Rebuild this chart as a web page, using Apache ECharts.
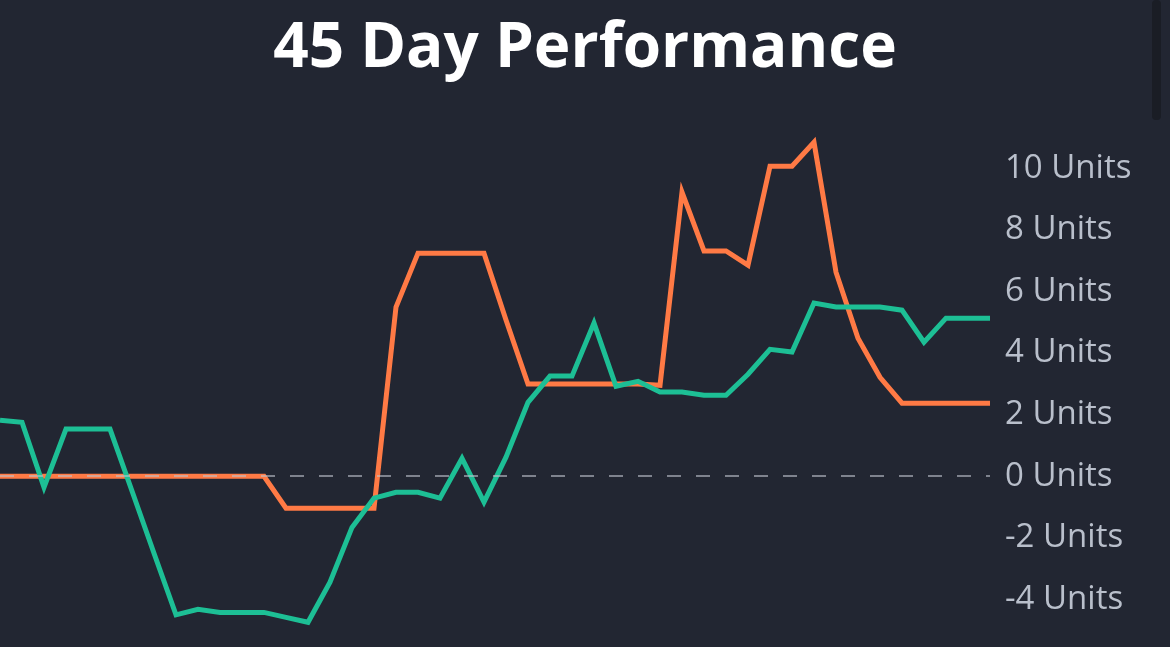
<!DOCTYPE html>
<html>
<head>
<meta charset="utf-8">
<script src="https://cdn.jsdelivr.net/npm/echarts@6/dist/echarts.min.js"></script>
<style>
  html, body { margin: 0; padding: 0; background: #222632; }
  #chart { width: 1170px; height: 647px; }
</style>
</head>
<body>
<div id="chart"></div>
<script>
// 46 daily points (day 0 .. day 45)
const days = Array.from({ length: 46 }, (_, i) => 'D' + i);

const greenValues = [
  1.82, 1.75, -0.36, 1.53, 1.53, 1.53, -0.48, -2.5, -4.5, -4.32,
  -4.42, -4.42, -4.42, -4.58, -4.74, -3.44, -1.66, -0.71, -0.52, -0.52,
  -0.71, 0.58, -0.84, 0.62, 2.4, 3.25, 3.25, 4.97, 2.92, 3.08,
  2.73, 2.73, 2.63, 2.63, 3.31, 4.12, 4.03, 5.62, 5.49, 5.49,
  5.49, 5.39, 4.35, 5.13, 5.13, 5.13
];

const orangeValues = [
  0, 0, 0, 0, 0, 0, 0, 0, 0, 0,
  0, 0, 0, -1.04, -1.04, -1.04, -1.04, -1.04, 5.49, 7.24,
  7.24, 7.24, 7.24, 5.07, 2.99, 2.99, 2.99, 2.99, 2.99, 2.99,
  2.95, 9.22, 7.31, 7.31, 6.85, 10.06, 10.06, 10.84, 6.62, 4.48,
  3.21, 2.37, 2.37, 2.37, 2.37, 2.37
];

const shownTicks = [-4, -2, 0, 2, 4, 6, 8, 10];

const myChart = echarts.init(document.getElementById('chart'));

let option = {
  backgroundColor: '#222632',
  animation: false,
  title: {
    text: '45 Day Performance',
    left: 'center',
    top: 13,
    textStyle: {
      color: '#ffffff',
      fontFamily: 'Open Sans',
      fontWeight: 'bold',
      fontSize: 62
    }
  },
  graphic: [{
    type: 'rect',
    shape: { x: 1152, y: 0, width: 9, height: 120, r: 4 },
    style: { fill: '#1a1d25' }
  }],
  grid: { left: 0, right: 180, top: 137.3, bottom: 16.7 },
  xAxis: {
    type: 'category',
    data: days,
    boundaryGap: false,
    axisLine: { show: false },
    axisTick: { show: false },
    axisLabel: { show: false },
    splitLine: { show: false }
  },
  yAxis: {
    type: 'value',
    position: 'right',
    min: -5,
    max: 11,
    interval: 1,
    splitLine: { show: false },
    axisLine: { show: false },
    axisTick: { show: false },
    axisLabel: {
      margin: 15,
      color: '#b9bfcb',
      fontFamily: 'Open Sans',
      fontSize: 33,
      formatter: v => shownTicks.includes(v) ? v + ' Units' : ''
    }
  },
  series: [
    {
      type: 'line',
      name: 'orange',
      data: orangeValues,
      showSymbol: false,
      lineStyle: { color: '#ff7a45', width: 5, join: 'miter' },
      itemStyle: { color: '#ff7a45' },
      z: 2
    },
    {
      type: 'line',
      name: 'green',
      data: greenValues,
      showSymbol: false,
      lineStyle: { color: '#1dbf95', width: 5, join: 'miter' },
      itemStyle: { color: '#1dbf95' },
      z: 3,
      markLine: {
        silent: true,
        symbol: 'none',
        label: { show: false },
        lineStyle: { color: 'rgba(190,194,202,0.8)', type: [14, 15], width: 1.5 },
        data: [{ yAxis: 0 }]
      }
    }
  ]
};

option && myChart.setOption(option);
</script>
</body>
</html>
